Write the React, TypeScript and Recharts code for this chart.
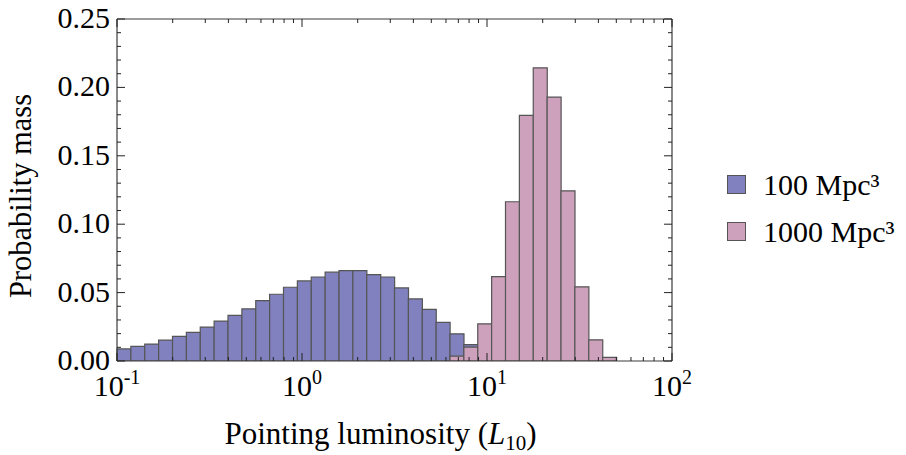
import React from "react";
import { ComposedChart, Bar, Line, XAxis, YAxis, Legend } from "recharts";

// bin lower edges (log-spaced bins, 40 bins from 0.1 to 100)
const binEdges = [
  0.1, 0.119, 0.141, 0.168, 0.2, 0.237, 0.282, 0.335, 0.398, 0.473,
  0.562, 0.668, 0.794, 0.944, 1.12, 1.33, 1.58, 1.88, 2.24, 2.66,
  3.16, 3.76, 4.47, 5.31, 6.31, 7.5, 8.91, 10.6, 12.6, 15.0,
  17.8, 21.1, 25.1, 29.9, 35.5, 42.2, 50.1, 59.6, 70.8, 84.1,
];

// 100 Mpc^3 probability mass per bin (bins 0..25)
const series100 = [
  0.0088, 0.0107, 0.0124, 0.0153, 0.018, 0.0209, 0.0248, 0.0292, 0.0333, 0.0381,
  0.0442, 0.0488, 0.0539, 0.0585, 0.0614, 0.0649, 0.0661, 0.0661, 0.0632, 0.0614,
  0.0534, 0.0454, 0.0377, 0.0282, 0.0199, 0.0119,
];

// 1000 Mpc^3 probability mass per bin (bins 24..35)
const series1000Start = 24;
const series1000 = [
  0.0035, 0.0102, 0.0272, 0.0617, 0.1164, 0.1795, 0.2143, 0.1929, 0.1244, 0.0542,
  0.0155, 0.0027,
];

const seriesNames = ["100 Mpc³", "1000 Mpc³"];
const seriesColors = ["#8181bf", "#cda0bc"];

const xTicks = [
  0.1, 0.2, 0.3, 0.4, 0.5, 0.6, 0.7, 0.8, 0.9,
  1, 2, 3, 4, 5, 6, 7, 8, 9,
  10, 20, 30, 40, 50, 60, 70, 80, 90, 100,
];
const xMajor = [0.1, 1, 10, 100];
const xMajorExp = ["-1", "0", "1", "2"];

const yTicks = [
  0, 0.01, 0.02, 0.03, 0.04, 0.05, 0.06, 0.07, 0.08, 0.09, 0.1, 0.11, 0.12,
  0.13, 0.14, 0.15, 0.16, 0.17, 0.18, 0.19, 0.2, 0.21, 0.22, 0.23, 0.24, 0.25,
];
const yMajor = [0, 0.05, 0.1, 0.15, 0.2, 0.25];
const yMajorLabels = ["0.00", "0.05", "0.10", "0.15", "0.20", "0.25"];

const data = binEdges.map((edge, i) => ({
  bin: edge,
  a: i < series100.length ? series100[i] : null,
  b:
    i >= series1000Start && i < series1000Start + series1000.length
      ? series1000[i - series1000Start]
      : null,
}));

const FONT = "'Liberation Serif', 'DejaVu Serif', serif";
const TICK_COLOR = "#222";
const FRAME_COLOR = "#3a3a3a";

const findIdx = (arr: number[], v: number) =>
  arr.findIndex((m) => Math.abs(m - v) < 1e-9);

const XTick = (props: any) => {
  const { x, y, payload, showLabel, dir } = props;
  const v = payload.value;
  const mi = findIdx(xMajor, v);
  const len = mi >= 0 ? 8 : 4;
  return (
    <g>
      <line x1={x} x2={x} y1={y} y2={y + dir * len} stroke={TICK_COLOR} strokeWidth={1} />
      {showLabel && mi >= 0 && (
        <text x={x} y={y + 35} textAnchor="middle" fontSize={30} fontFamily={FONT} fill="#000">
          10
          <tspan dy={-12} fontSize={20}>
            {xMajorExp[mi]}
          </tspan>
        </text>
      )}
    </g>
  );
};

const YTick = (props: any) => {
  const { x, y, payload, showLabel, dir } = props;
  const v = payload.value;
  const mi = findIdx(yMajor, v);
  const len = mi >= 0 ? 8 : 4;
  return (
    <g>
      <line x1={x} x2={x + dir * len} y1={y} y2={y} stroke={TICK_COLOR} strokeWidth={1} />
      {showLabel && mi >= 0 && (
        <text x={x - 7} y={y + 9} textAnchor="end" fontSize={30} fontFamily={FONT} fill="#000">
          {yMajorLabels[mi]}
        </text>
      )}
    </g>
  );
};

const XLabel = (props: any) => {
  const vb = props.viewBox;
  const cx = vb.x + vb.width / 2 - 14;
  return (
    <text x={cx} y={444} textAnchor="middle" fontSize={31} fontFamily={FONT} fill="#000">
      Pointing luminosity (
      <tspan fontStyle="italic">L</tspan>
      <tspan dy={6} fontSize={21}>10</tspan>
      <tspan dy={-6}>)</tspan>
    </text>
  );
};

const YLabel = (props: any) => {
  const vb = props.viewBox;
  const cy = vb.y + vb.height / 2 + 6;
  const x = 31;
  return (
    <text
      x={x}
      y={cy}
      textAnchor="middle"
      fontSize={30.5}
      fontFamily={FONT}
      fill="#000"
      transform={`rotate(-90, ${x}, ${cy})`}
    >
      Probability mass
    </text>
  );
};

const LegendContent = (props: any) => {
  const { payload } = props;
  return (
    <div style={{ fontFamily: FONT, fontSize: 30, color: "#000" }}>
      {(payload || [])
        .filter((item: any) => item.type !== "none")
        .map((item: any, i: number) => (
          <div
            key={i}
            style={{ display: "flex", alignItems: "center", height: 47, whiteSpace: "nowrap" }}
          >
            <span
              style={{
                display: "inline-block",
                width: 17,
                height: 17,
                background: item.color,
                border: "1px solid #555",
                marginRight: 17,
              }}
            />
            <span>{item.value}</span>
          </div>
        ))}
    </div>
  );
};

export default function App() {
  return (
    <div style={{ position: "absolute", left: 0, top: 0, background: "#fff" }}>
      <ComposedChart
        width={906}
        height={455}
        data={data}
        margin={{ top: 18, right: 233, bottom: 93, left: 116 }}
        barCategoryGap={0}
        barGap={0}
        style={{ fontFamily: FONT }}
      >
        <XAxis xAxisId="a" dataKey="bin" type="category" hide height={0} />
        <XAxis xAxisId="b" dataKey="bin" type="category" hide height={0} />
        <XAxis
          xAxisId="log"
          dataKey="bin"
          type="number"
          scale="log"
          domain={[0.1, 100]}
          allowDataOverflow
          ticks={xTicks}
          interval={0}
          height={1}
          tickSize={0}
          tickMargin={0}
          tickLine={false}
          axisLine={{ stroke: FRAME_COLOR, strokeWidth: 1.2 }}
          tick={<XTick showLabel dir={-1} />}
          label={<XLabel />}
        />
        <XAxis
          xAxisId="top"
          dataKey="bin"
          orientation="top"
          type="number"
          scale="log"
          domain={[0.1, 100]}
          allowDataOverflow
          ticks={xTicks}
          interval={0}
          height={1}
          tickSize={0}
          tickMargin={0}
          tickLine={false}
          axisLine={{ stroke: FRAME_COLOR, strokeWidth: 1.2 }}
          tick={<XTick showLabel={false} dir={1} />}
        />
        <YAxis
          type="number"
          domain={[0, 0.25]}
          allowDataOverflow
          ticks={yTicks}
          interval={0}
          width={1}
          tickSize={0}
          tickMargin={0}
          tickLine={false}
          axisLine={{ stroke: FRAME_COLOR, strokeWidth: 1.2 }}
          tick={<YTick showLabel dir={1} />}
          label={<YLabel />}
        />
        <YAxis
          yAxisId="right"
          orientation="right"
          type="number"
          domain={[0, 0.25]}
          allowDataOverflow
          ticks={yTicks}
          interval={0}
          width={1}
          tickSize={0}
          tickMargin={0}
          tickLine={false}
          axisLine={{ stroke: FRAME_COLOR, strokeWidth: 1.2 }}
          tick={<YTick showLabel={false} dir={-1} />}
        />
        <Bar
          xAxisId="a"
          dataKey="a"
          name={seriesNames[0]}
          fill={seriesColors[0]}
          stroke="#555"
          strokeWidth={1.2}
          isAnimationActive={false}
        />
        <Bar
          xAxisId="b"
          dataKey="b"
          name={seriesNames[1]}
          fill={seriesColors[1]}
          stroke="#555"
          strokeWidth={1.2}
          isAnimationActive={false}
        />
        <Line
          xAxisId="log"
          yAxisId="right"
          dataKey="a"
          stroke="none"
          dot={false}
          activeDot={false}
          legendType="none"
          isAnimationActive={false}
        />
        <Line
          xAxisId="top"
          yAxisId="right"
          dataKey="b"
          stroke="none"
          dot={false}
          activeDot={false}
          legendType="none"
          isAnimationActive={false}
        />
        <Legend
          layout="vertical"
          align="center"
          verticalAlign="middle"
          content={<LegendContent />}
          wrapperStyle={{ left: 727, top: 161, width: 180, height: 94 }}
        />
      </ComposedChart>
    </div>
  );
}
